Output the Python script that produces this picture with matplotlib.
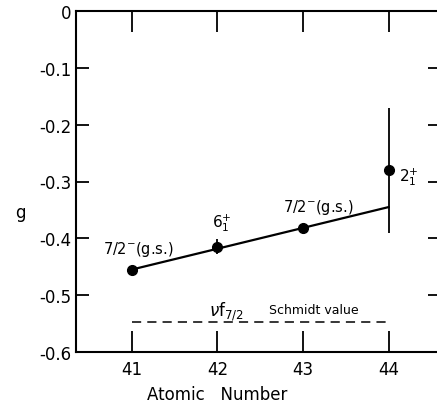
import matplotlib
matplotlib.use('Agg')
import matplotlib.pyplot as plt
import numpy as np

# data
z = [41, 42, 43, 44]
g = [-0.455, -0.415, -0.382, -0.28]
g_err = [0.0, 0.013, 0.0, 0.11]
labels = ['7/2$^{-}$(g.s.)', '6$_{1}^{+}$', '7/2$^{-}$(g.s.)', '2$_{1}^{+}$']
fit_z = [41, 44]
fit_g = [-0.455, -0.345]
schmidt = -0.548

yticks = [0, -0.1, -0.2, -0.3, -0.4, -0.5, -0.6]
ytick_labels = ['0', '-0.1', '-0.2', '-0.3', '-0.4', '-0.5', '-0.6']

plt.rcParams['font.family'] = ['DejaVu Sans']
plt.rcParams['mathtext.fontset'] = 'dejavusans'

fig = plt.figure(figsize=(4.37, 4.10), dpi=100)
ax = fig.add_axes([76 / 437, 1 - 353 / 410, (440 - 76) / 437, (353 - 12) / 410])

ax.plot(fit_z, fit_g, color='black', lw=1.6)
ax.errorbar(z, g, yerr=g_err, fmt='o', color='black', ms=7, elinewidth=1.3, capsize=0)
ax.plot(fit_z, [schmidt, schmidt], color='black', lw=1.1, ls=(0, (6, 4)))

ax.text(z[0] - 0.33, g[0] + 0.03, labels[0], fontsize=10.5)
ax.text(z[1] - 0.06, g[1] + 0.035, labels[1], fontsize=11)
ax.text(z[2] - 0.23, g[2] + 0.03, labels[2], fontsize=10.5)
ax.text(z[3] + 0.12, g[3] - 0.01, labels[3], fontsize=11, va='center')
ax.text(41.9, schmidt + 0.012, r'$\nu$f$_{7/2}$', fontsize=12)
ax.text(42.6, schmidt + 0.017, 'Schmidt value', fontsize=9)

ax.set_xlim(40.35, 44.6)
ax.set_ylim(-0.6, 0)
ax.set_xticks(z)
ax.set_xticklabels([str(v) for v in z], fontsize=12)
ax.set_yticks(yticks)
ax.set_yticklabels(ytick_labels, fontsize=12)
ax.tick_params(axis='x', direction='in', length=15, width=1.3, top=True, pad=6)
ax.tick_params(axis='y', direction='in', length=9, width=1.3, right=True, pad=3)
for s in ax.spines.values():
    s.set_linewidth(1.5)

fig.text(217 / 437, 1 - 395 / 410, 'Atomic   Number', fontsize=12, ha='center', va='center')
fig.text(20 / 437, 1 - 213 / 410, 'g', fontsize=12, ha='center', va='center')

fig.savefig('out.png', dpi=100)
